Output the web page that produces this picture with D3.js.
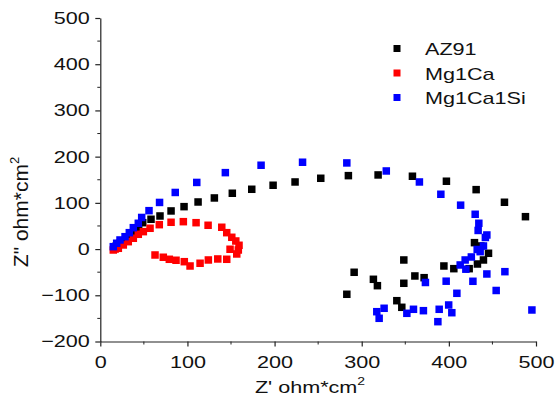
<!DOCTYPE html>
<html>
<head>
<meta charset="utf-8">
<script src="https://cdn.jsdelivr.net/npm/d3@7"></script>
<style>
  body { margin: 0; background: #fff; }
  svg { display: block; font-family: "Liberation Sans", Arial, sans-serif; }
</style>
</head>
<body>
<svg id="chart"></svg>
<script>
// series names
let seriesNames = ['AZ91', 'Mg1Ca', 'Mg1Ca1Si'];

// Z' (x) and Z'' (y) values
let az91X = [16, 18, 20, 23, 26, 30, 34, 39, 44, 48.7, 58.2, 68.5, 81.2, 96.1, 112.2, 130.9, 151.5, 173.8, 198.3, 223.5, 253, 284.7, 318.8, 358.2, 397.2, 431.3, 463.8, 487.9,
    429.4, 436.7, 445.5, 439.7, 432.8, 423.3, 405.7, 394.3, 371.6, 361, 348.3, 348.3, 340.3, 346, 318, 313.4, 291.3, 282.9];
let az91Y = [3, 6, 9, 13, 18, 23, 29, 36, 43, 57.1, 64.5, 71.6, 82.5, 91.8, 101.9, 110.6, 120.8, 129.4, 138.1, 145.2, 153.2, 158.9, 160.4, 157.6, 146.8, 128.6, 101.3, 70.1,
    13.9, 6.7, -9.1, -23.6, -32.3, -42.4, -42.4, -36.6, -61.9, -58.2, -23.6, -74, -111.7, -126, -79.2, -65.4, -50.2, -97.8];

let mg1caX = [14.9, 17, 20.7, 26.4, 32.1, 37.9, 43.6, 49.4, 57.1, 67.7, 81.2, 95.3, 109.9, 123.7, 139.4, 145.1, 150.9, 155.5, 159.2, 158.4, 148.9, 156.6,
    145.1, 134.8, 124, 114.5, 103, 96.4, 86.9, 79.2, 72.3, 62.8];
let mg1caY = [-2, 0, 1.7, 8.9, 16, 23.4, 32, 37.7, 45, 52.8, 58, 59.3, 57.1, 51.5, 47.2, 35.5, 25.5, 17.5, 8.2, -2, -0.4, -10.6,
    -22.1, -21.4, -23.6, -30.7, -36.6, -27.3, -24.2, -22.1, -17.7, -12.8];

let mg1ca1siX = [14.9, 18.8, 22.6, 28.4, 33.3, 37.9, 43.6, 47.5, 55.9, 68, 86, 110.7, 143.5, 184.5, 232.1, 282.9, 328.2, 366.2, 390.8, 413.5, 430.2, 434.4, 433.6,
    443.6, 441.9, 439.7, 432.5, 435.9, 425.8, 418.7, 413, 419.5, 443.6, 464.3, 427.6, 396.9, 373.1, 409.2, 454.3, 399.8, 403.4, 388.9, 370.8, 359.4, 351.8, 387.4,
    325.7, 317.3, 320, 495.3];
let mg1ca1siY = [5.2, 12.6, 19.7, 26.8, 35.5, 46.3, 55.8, 68.4, 83.1, 100.9, 122.5, 144.2, 165.4, 181.4, 187.9, 186.4, 169, 145.2, 118.6, 95, 75.3, 55.8, 40.3,
    30.5, 25.1, 6.7, -0.9, -5.6, -17.1, -23.6, -34.4, -43.5, -53.9, -48.9, -69.7, -69.5, -72.3, -95.7, -89.6, -121, -137.7, -130.3, -133.3, -130.3, -139, -157.1,
    -128.1, -135.5, -149.8, -131.8];

let xTicks = [0, 100, 200, 300, 400, 500];
let yTicks = [-200, -100, 0, 100, 200, 300, 400, 500];
let colors = ['#000000', '#ff0000', '#0000ff'];

let w = 556, h = 399;
let stretch = 1.27; // the reference text is drawn a bit wide
let svg = d3.select('#chart').attr('width', w).attr('height', h);

let x = d3.scaleLinear().domain([0, 500]).range([100.3, 536]);
let y = d3.scaleLinear().domain([-200, 500]).range([341.5, 18]);

let series = [
    {name: seriesNames[0], xs: az91X, ys: az91Y, color: colors[0]},
    {name: seriesNames[1], xs: mg1caX, ys: mg1caY, color: colors[1]},
    {name: seriesNames[2], xs: mg1ca1siX, ys: mg1ca1siY, color: colors[2]}
];

let size = 7.5;

// points
series.forEach(s => {
    let pts = s.xs.map((v, i) => [v, s.ys[i]]);
    svg.append('g')
        .selectAll('rect')
        .data(pts)
        .enter()
        .append('rect')
        .attr('x', d => x(d[0]) - size / 2)
        .attr('y', d => y(d[1]) - size / 2)
        .attr('width', size)
        .attr('height', size)
        .attr('fill', s.color);
});

// axes
let minorX = d3.range(50, 500, 100);
let minorY = d3.range(-150, 500, 100);

let xAxis = svg.append('g').attr('transform', `translate(0,${y(-200)})`);
xAxis.call(d3.axisBottom(x).tickValues(xTicks).tickSize(5).tickSizeOuter(0));
xAxis.append('g').selectAll('line').data(minorX).enter().append('line')
    .attr('x1', d => x(d)).attr('x2', d => x(d)).attr('y1', 0).attr('y2', 3)
    .attr('stroke', '#222');
xAxis.selectAll('.tick text').attr('y', 14.5).attr('dy', '0.71em');

let yAxis = svg.append('g').attr('transform', `translate(${x(0)},0)`);
yAxis.call(d3.axisLeft(y).tickValues(yTicks).tickSize(5).tickSizeOuter(0));
yAxis.append('g').selectAll('line').data(minorY).enter().append('line')
    .attr('x1', 0).attr('x2', -3).attr('y1', d => y(d)).attr('y2', d => y(d))
    .attr('stroke', '#222');
yAxis.selectAll('.tick text').attr('x', -10.5 / stretch);

svg.selectAll('.domain, .tick line').attr('stroke', '#222').attr('stroke-width', 1.2);
svg.selectAll('.tick text').attr('font-size', 17).attr('fill', '#111')
    .attr('font-family', '"Liberation Sans", Arial, sans-serif')
    .attr('transform', `scale(${stretch},1)`);

// axis titles
let xt = svg.append('text')
    .attr('transform', `translate(310,393) scale(${stretch},1)`)
    .attr('text-anchor', 'middle')
    .attr('font-size', 17).attr('fill', '#111');
xt.append('tspan').text("Z' ohm*cm");
xt.append('tspan').attr('dy', -8).attr('font-size', 11).text('2');

let yt = svg.append('text')
    .attr('transform', 'translate(28,212) rotate(-90)')
    .attr('text-anchor', 'middle')
    .attr('font-size', 21).attr('fill', '#111');
yt.append('tspan').text('Z" ohm*cm');
yt.append('tspan').attr('dy', -9).attr('font-size', 13).text('2');

// legend
let legend = svg.append('g');
series.forEach((s, i) => {
    let ly = 55 + i * 24.5;
    legend.append('rect')
        .attr('x', 397 - 3.5).attr('y', ly - 6.5 - 3.5)
        .attr('width', 7).attr('height', 7)
        .attr('fill', s.color);
    legend.append('text')
        .attr('transform', `translate(425,${ly}) scale(${stretch},1)`)
        .attr('font-size', 17).attr('fill', '#111')
        .text(s.name);
});
</script>
</body>
</html>
